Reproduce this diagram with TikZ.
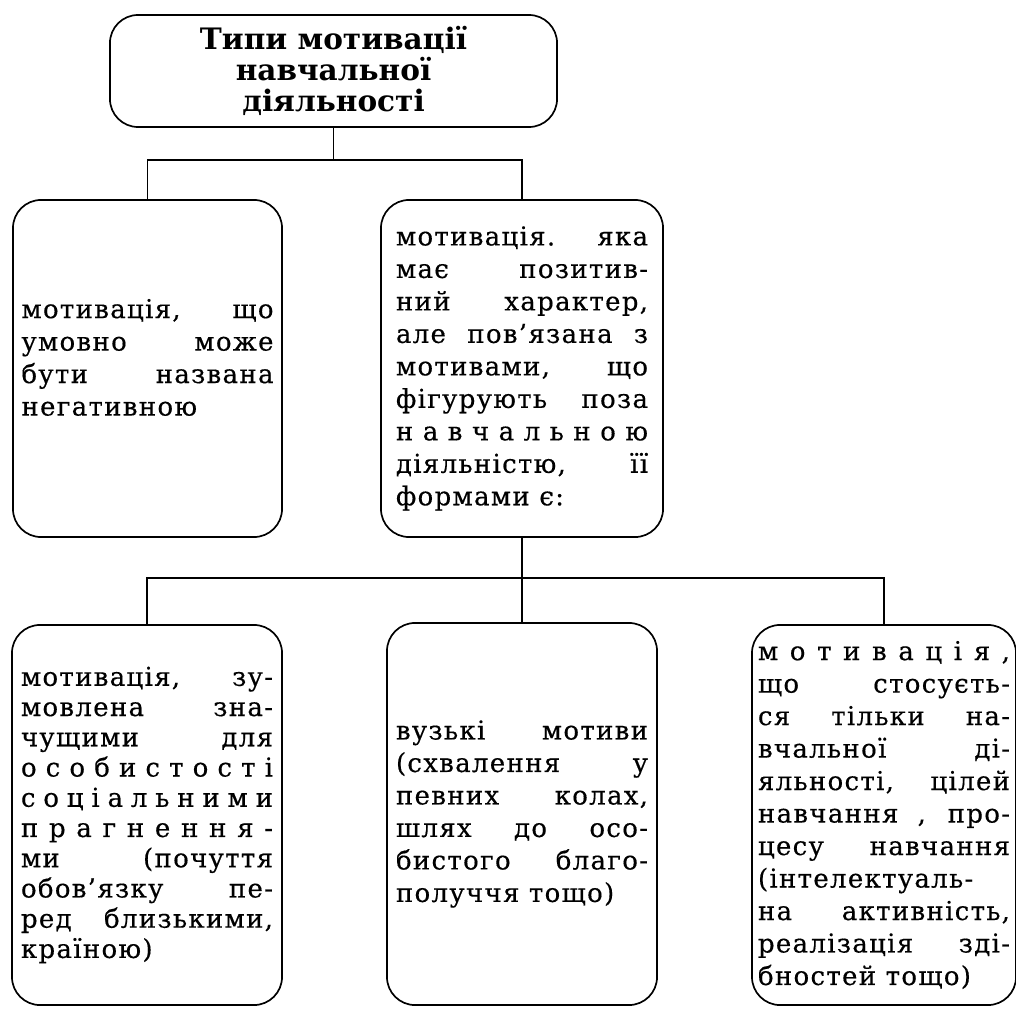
\documentclass[tikz,border=0pt]{standalone}
\usepackage{fontspec}
\setmainfont{DejaVu Serif}
\newfontfamily\bodyfont[FakeBold=0.4,LetterSpace=5]{DejaVu Serif}

\newcommand{\spreadln}[1]{\makebox[\hsize][s]{#1}}

\tikzset{
    typebox/.style={draw,rounded corners=20pt,align=justify,
        text width=6.3cm,font=\bodyfont\fontsize{18.5}{23.1}\selectfont},
    titlebox/.style={draw,rounded corners=20pt,align=center,
        font=\fontsize{21}{22}\selectfont\bfseries}
}

\begin{document}
\begin{tikzpicture}[x=0.025cm,y=-0.025cm,draw=black,line width=1.2pt]
            \useasboundingbox (0,0) rectangle (1016,1010);

            % top
            \node [titlebox,minimum width=11.175cm,minimum height=2.8cm] (types) at (333.5,71)
                {Типи мотивації\\навчальної\\діяльності};

            % second row
            \node [typebox,minimum width=6.725cm,minimum height=8.425cm] (negative) at (147.5,368.5)
                {мотивація, що\linebreak умовно може\linebreak бути названа\linebreak негативною\par\vspace{-0.25cm}\hbox{}};
            \node [typebox,minimum width=7.05cm,minimum height=8.425cm] (positive) at (522,368.5)
                {мотивація. яка\linebreak має позитив-\linebreak ний характер,\linebreak
                 але пов’язана з\linebreak мотивами, що\linebreak фігурують поза\linebreak
                 \spreadln{н а в ч а л ь н о ю}\linebreak діяльністю, її\linebreak формами є:};

            % third row
            \node [typebox,font=\bodyfont\fontsize{18.5}{21.5}\selectfont,
                   minimum width=6.75cm,minimum height=9.5cm] (social) at (147,815)
                {мотивація, зу-\linebreak мовлена зна-\linebreak чущими для\linebreak
                 \spreadln{о с о б и с т о с т і}\linebreak \spreadln{с о ц і а л ь н и м и}\linebreak
                 \spreadln{п р а г н е н н я -}\linebreak ми (почуття\linebreak обов’язку пе-\linebreak
                 ред близькими,\linebreak країною)};
            \node [typebox,minimum width=6.75cm,minimum height=9.55cm] (narrow) at (522,814)
                {вузькі мотиви\linebreak (схвалення у\linebreak певних колах,\linebreak
                 шлях до осо-\linebreak бистого благо-\linebreak получчя тощо)};
            \node [typebox,minimum width=6.6cm,minimum height=9.5cm] (learning) at (884,815)
                {\spreadln{м о т и в а ц і я ,}\linebreak що стосуєть-\linebreak ся тільки на-\linebreak
                 вчальної ді-\linebreak яльності, цілей\linebreak навчання , про-\linebreak
                 цесу навчання\linebreak (інтелектуаль-\linebreak на активність,\linebreak
                 реалізація зді-\linebreak бностей тощо)};

            % connectors
            \coordinate (upper) at (333.5,160);
            \coordinate (lower) at (522,578);
            \draw (types.south) -- (upper);
            \draw (negative.north) |- (upper) -| (positive.north);
            \draw (positive.south) -- (lower) -- (narrow.north);
            \draw (social.north) |- (lower) -| (learning.north);
\end{tikzpicture}
\end{document}
